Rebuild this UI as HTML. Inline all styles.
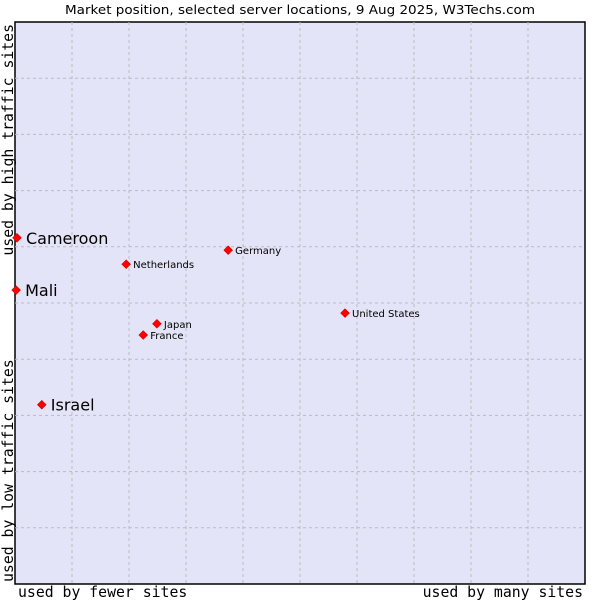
<!DOCTYPE html>
<html><head><meta charset="utf-8"><style>
body{margin:0;background:#fff;width:600px;height:600px;overflow:hidden}
svg{display:block}
</style></head><body>
<svg width="600" height="600">
<text x="65" y="14" textLength="470" lengthAdjust="spacingAndGlyphs" font-family="DejaVu Sans, sans-serif" font-size="12.5" fill="#000">Market position, selected server locations, 9 Aug 2025, W3Techs.com</text>
<rect x="15" y="22" width="570" height="562" fill="#e4e4f8" stroke="#000" stroke-width="1.5"/>
<g id="grid"></g>
<g id="pts"></g>
<text x="18" y="597" font-family="DejaVu Sans Mono, monospace" font-size="14.8">used by fewer sites</text>
<text x="583" y="597" text-anchor="end" font-family="DejaVu Sans Mono, monospace" font-size="14.8">used by many sites</text>
<text transform="translate(13,582) rotate(-90)" font-family="DejaVu Sans Mono, monospace" font-size="14.8">used by low traffic sites</text>
<text transform="translate(13,24) rotate(-90)" text-anchor="end" font-family="DejaVu Sans Mono, monospace" font-size="14.8">used by high traffic sites</text>
</svg>
<script>
const names=["Cameroon","Mali","Israel","Netherlands","Germany","United States","Japan","France"];
const xs=[0.35,0.2,4.7,19.5,37.4,57.9,24.9,22.5];
const ys=[61.6,52.3,31.9,56.9,59.4,48.2,46.3,44.3];
const big=[true,true,true,false,false,false,false,false];
const NS="http://www.w3.org/2000/svg";
const X0=15,W=570,Y0=584,H=562;
const sx=v=>X0+v/100*W, sy=v=>Y0-v/100*H;
const grid=document.getElementById('grid');
for(let i=1;i<10;i++){
 const l=document.createElementNS(NS,'line');
 
 
 l.setAttribute('x1',sx(i*10));l.setAttribute('x2',sx(i*10));l.setAttribute('y1',22);l.setAttribute('y2',584);
 l.setAttribute('stroke','#bbb');l.setAttribute('stroke-dasharray','3,3');grid.appendChild(l);
 const h=document.createElementNS(NS,'line');
 
 
 h.setAttribute('y1',sy(i*10));h.setAttribute('y2',sy(i*10));h.setAttribute('x1',15);h.setAttribute('x2',585);
 h.setAttribute('stroke','#bbb');h.setAttribute('stroke-dasharray','3,3');grid.appendChild(h);
}
const pts=document.getElementById('pts');
names.forEach((n,i)=>{
 const x=sx(xs[i]),y=sy(ys[i]);
 const d=document.createElementNS(NS,'path');
 
 
 d.setAttribute('d',`M${x} ${y-4.5}L${x+4.5} ${y}L${x} ${y+4.5}L${x-4.5} ${y}Z`);
 d.setAttribute('fill','#f00');d.setAttribute('stroke','#a00');d.setAttribute('stroke-width','0.5');
 pts.appendChild(d);
 const t=document.createElementNS(NS,'text');
 
 
 t.setAttribute('x',x+(big[i]?9:7));t.setAttribute('y',y+(big[i]?6:4));
 t.setAttribute('font-family','DejaVu Sans, sans-serif');t.setAttribute('font-size',big[i]?16:10);
 t.textContent=n;pts.appendChild(t);
});
</script>
</body></html>
